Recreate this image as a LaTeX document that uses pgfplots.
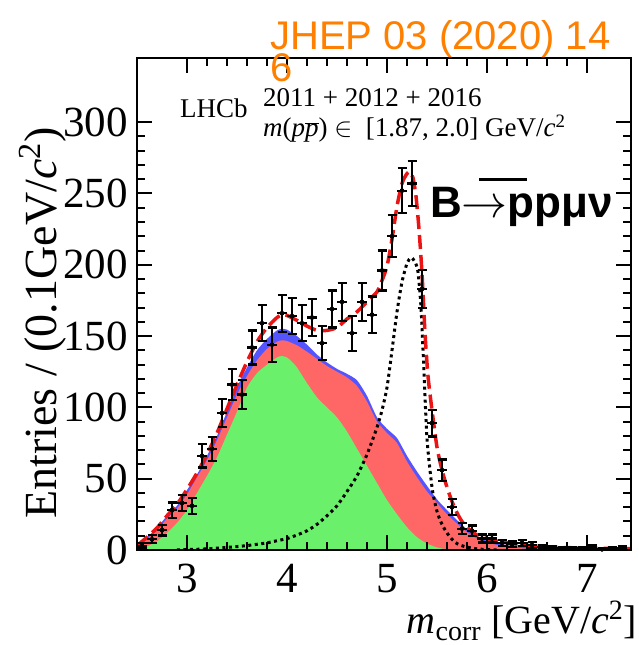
\documentclass[border=0pt]{standalone}
\usepackage{fix-cm}
\usepackage{pgfplots}
\usepackage{pgfplotstable}
\usepackage{fontspec}
\pgfplotsset{compat=1.18}
\setmainfont{Liberation Serif}
\newfontfamily\sans{Liberation Sans}
\definecolor{bkgblue}{RGB}{85,85,255}
\definecolor{bkgred}{RGB}{255,102,102}
\definecolor{bkggreen}{RGB}{106,240,106}
\definecolor{fitred}{RGB}{235,20,20}
\definecolor{jhep}{RGB}{255,128,0}

% binned data: bin centre, entries, vertical and horizontal errors
\pgfplotstableread{
x    y     ey    ex
2.55 3     1.8   0.05
2.65 7.5   2.8   0.05
2.75 14    3.8   0.05
2.85 28    5.3   0.05
2.95 33    5.8   0.05
3.05 31    5.6   0.05
3.15 66    8.1   0.05
3.25 71    8.4   0.05
3.35 96    9.8   0.05
3.45 116   10.8  0.05
3.55 109   10.4  0.05
3.65 142   11.9  0.05
3.75 159   12.6  0.05
3.85 144   12.0  0.05
3.95 166   12.9  0.05
4.05 164   12.8  0.05
4.15 159   12.6  0.05
4.25 163   12.8  0.05
4.35 145   12.0  0.05
4.45 169   13.0  0.05
4.55 174   13.2  0.05
4.65 152   12.3  0.05
4.75 174   13.2  0.05
4.85 165   12.8  0.05
4.95 196   14.0  0.05
5.05 220   14.8  0.05
5.15 252   15.9  0.05
5.25 257   16.0  0.05
5.35 183   13.5  0.05
5.45 89    9.4   0.05
5.55 56    7.5   0.05
5.65 30    5.5   0.05
5.75 15    3.9   0.05
5.85 13.5  3.7   0.05
5.95 8     2.8   0.05
6.05 8     2.8   0.05
6.15 5     2.2   0.05
6.25 4     2.0   0.05
6.35 5     2.2   0.05
6.45 3.5   1.9   0.05
6.55 2     1.4   0.05
6.65 1.5   1.2   0.05
6.75 1     1.0   0.05
6.85 1     1.0   0.05
6.95 1     1.0   0.05
7.05 2     1.4   0.05
7.15 0.5   0.7   0.05
7.25 1     1.0   0.05
7.35 1.5   1.2   0.05
}\datatable

\begin{document}
\begin{tikzpicture}
\useasboundingbox (0pt,0pt) rectangle (639pt,645pt);
\begin{axis}[
  at={(137pt,95pt)}, anchor=south west,
  scale only axis, width=494pt, height=492pt,
  xmin=2.5, xmax=7.44, ymin=0, ymax=345,
  xtick={3,4,5,6,7}, minor x tick num=4,
  ytick={0,50,100,150,200,250,300}, minor y tick num=4,
  tick align=inside,
  major tick length=15pt, minor tick length=8pt,
  axis line style={line width=2.5pt},
  every tick/.style={black, line width=2pt},
  /pgf/number format/assume math mode=true,
  tick label style={font=\fontsize{43}{43}\selectfont, inner sep=0pt},
  xticklabel style={yshift=-14pt},
  yticklabel style={xshift=-9pt},
  axis on top,
  clip=true,
]
% stacked background components (cumulative tops)
\addplot[fill=bkgblue, draw=none, smooth, tension=0.4] coordinates {
(2.5,3)(2.6,9)(2.7,15.5)(2.8,24)(2.9,31)(3.0,42)(3.1,53)(3.2,66)(3.3,80)(3.4,97)
(3.5,114)(3.6,128)(3.7,140)(3.8,148)(3.9,154)(3.95,155)(4.0,154.5)(4.1,150)(4.2,144)
(4.3,137)(4.4,131.5)(4.5,127)(4.6,123.5)(4.7,119)(4.8,108)(4.9,93)(5.0,85)(5.1,78.5)
(5.2,66)(5.3,55)(5.4,45)(5.5,35.5)(5.6,28)(5.7,21)(5.8,14.5)(5.9,9.5)(6.0,6.5)(6.1,4.7)
(6.2,3.5)(6.3,2.6)(6.4,2)(6.6,1.1)(7.0,0.5)(7.44,0.2)} \closedcycle;
\addplot[fill=bkgred, draw=none, smooth, tension=0.4] coordinates {
(2.5,2)(2.6,8)(2.7,14)(2.8,22)(2.9,29)(3.0,39)(3.1,51)(3.2,63)(3.3,77)(3.4,93)
(3.5,109)(3.6,122)(3.7,133)(3.8,141)(3.9,146)(3.95,147)(4.0,146.5)(4.1,143.5)(4.2,139)
(4.3,134)(4.4,129)(4.5,125)(4.6,121)(4.7,115)(4.8,104)(4.9,90)(5.0,82)(5.1,75)
(5.2,62)(5.3,51)(5.4,41)(5.5,33)(5.6,25)(5.7,18.5)(5.8,12.5)(5.9,8)(6.0,5.5)(6.1,3.5)
(6.2,2.3)(6.3,1.5)(6.4,1)(6.6,0.5)(7.0,0.2)(7.44,0.1)} \closedcycle;
\addplot[fill=bkggreen, draw=none, smooth, tension=0.4] coordinates {
(2.5,0)(2.55,1)(2.6,2.5)(2.7,6)(2.8,12)(2.9,19)(3.0,28)(3.1,40)(3.2,52)(3.3,65)
(3.4,81)(3.5,97)(3.6,114)(3.7,124)(3.8,130)(3.9,135)(3.95,136)(4.0,135)(4.05,132)
(4.1,128)(4.2,117)(4.3,107)(4.4,100)(4.5,93)(4.6,83)(4.7,71)(4.8,59)(4.9,47)(5.0,35)
(5.1,25)(5.2,16)(5.3,9)(5.4,4.5)(5.5,1.8)(5.6,0.5)(5.7,0.1)(5.8,0)(7.44,0)} \closedcycle;
% signal component
\addplot[black, line width=3pt, dash pattern=on 3pt off 3.5pt, smooth, tension=0.4] coordinates {
(2.9,0)(3.0,0.3)(3.1,0.5)(3.2,0.8)(3.3,1.3)(3.4,1.8)(3.5,2.4)(3.6,3.1)(3.7,4)(3.8,5)
(3.9,6.5)(4.0,8)(4.1,10.5)(4.2,13.5)(4.3,18)(4.4,24)(4.5,31)(4.6,41)(4.7,52)(4.8,67)
(4.9,86)(4.95,98)(5.0,114)(5.05,140)(5.1,167)(5.15,188)(5.2,201)(5.24,205)(5.28,202)
(5.31,195)(5.34,170)(5.37,125)(5.4,78)(5.45,44)(5.5,27)(5.55,18)(5.6,12)(5.65,7.5)
(5.7,4.5)(5.75,3)(5.8,2)(5.9,0.8)(6.0,0.3)(6.1,0)};
% total fit
\addplot[fitred, line width=3.5pt, dash pattern=on 14pt off 6pt, smooth, tension=0.4] coordinates {
(2.5,3)(2.6,9)(2.7,15.5)(2.8,24)(2.9,32)(3.0,42.5)(3.1,54)(3.2,67)(3.3,82)(3.4,99)
(3.5,116)(3.6,132)(3.7,146)(3.8,156)(3.9,163)(3.95,165)(4.0,164.5)(4.1,161)(4.2,157)
(4.3,154)(4.4,154)(4.5,156)(4.6,162)(4.7,167)(4.8,174)(4.9,181)(4.95,189)(5.0,199)
(5.05,218)(5.1,241)(5.15,257)(5.2,264)(5.23,265)(5.26,261)(5.29,248)(5.32,225)
(5.35,194)(5.38,152)(5.41,122)(5.45,98)(5.5,72)(5.55,56)(5.6,44)(5.65,34)(5.7,26)
(5.75,20)(5.8,16)(5.85,13)(5.9,10.5)(6.0,8)(6.1,6.2)(6.2,5)(6.3,4)(6.4,3.3)(6.5,2.7)
(6.7,1.9)(7.0,1.3)(7.44,0.9)};
% data: vertical error bars with caps, horizontal bin-width bars
\addplot[only marks, mark=none, black,
  error bars/.cd, y dir=both, y explicit, error mark=|,
  error bar style={line width=2.2pt, black},
  error mark options={line width=2.2pt, mark size=4.5pt, black}]
  table[x=x, y=y, y error=ey] {\datatable};
\addplot[only marks, mark=none, black,
  error bars/.cd, x dir=both, x explicit, error mark=none,
  error bar style={line width=2.2pt, black}]
  table[x=x, y=y, x error=ex] {\datatable};
\end{axis}
% titles and annotations
\node[anchor=base, rotate=90, inner sep=0pt, font=\fontsize{46}{46}\selectfont]
  at (57pt,322pt) {Entries / (0.1GeV/\textit{c}\textsuperscript{2})};
\node[anchor=base east, inner sep=0pt, font=\fontsize{40}{40}\selectfont]
  at (637pt,11pt) {\textit{m}\textsubscript{corr} [GeV/\textit{c}\textsuperscript{2}]};
\node[anchor=base west, inner sep=0pt, font=\fontsize{27}{27}\selectfont]
  at (180pt,527pt) {LHCb};
\node[anchor=base west, inner sep=0pt, font=\fontsize{27}{27}\selectfont]
  at (263pt,538pt) {2011 + 2012 + 2016};
\node[anchor=base west, inner sep=0pt, font=\fontsize{27}{27}\selectfont]
  at (263pt,508pt) {\textit{m}(\textit{p}$\overline{\mathit{p}}$) $\in$\ \ [1.87, 2.0] GeV/\textit{c}\textsuperscript{2}};
\node[anchor=base west, inner sep=0pt, text=jhep, font=\sans\fontsize{40}{40}\selectfont]
  at (270pt,595pt) {JHEP 03 (2020) 14};
\node[anchor=base west, inner sep=0pt, text=jhep, font=\sans\fontsize{40}{40}\selectfont]
  at (270pt,563pt) {6};
\node[anchor=base west, inner sep=0pt, font=\sans\bfseries\fontsize{44}{44}\selectfont]
  at (430pt,427pt) {B\rlap{\hspace{17pt}\rule[37pt]{48pt}{2.5pt}}{\fontsize{46}{46}\selectfont$\rightarrow$}ppμν};
\end{tikzpicture}
\end{document}
